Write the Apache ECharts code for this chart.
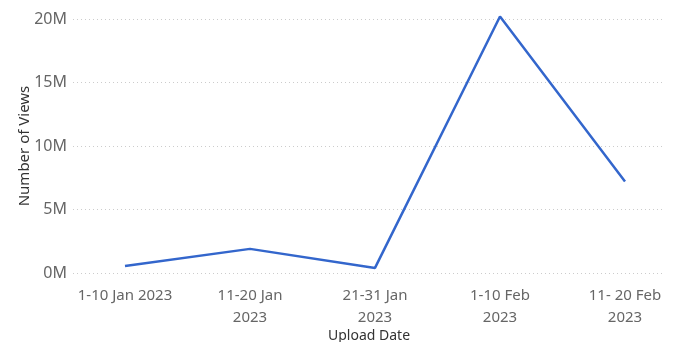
<!DOCTYPE html>
<html>
<head>
<meta charset="utf-8">
<script src="https://cdn.jsdelivr.net/npm/echarts@6/dist/echarts.min.js"></script>
<style>
  html, body { margin: 0; padding: 0; background: #fff; }
  #myChart { width: 679px; height: 342px; }
</style>
</head>
<body>
<div id="myChart"></div>
<script>
// Upload periods and views (millions)
const categories = ['1-10 Jan 2023', '11-20 Jan\n2023', '21-31 Jan\n2023', '1-10 Feb\n2023', '11- 20 Feb\n2023'];
const views = [0.55, 1.9, 0.4, 20.2, 7.2];
const yTicks = [0, 5, 10, 15, 20];

const myChart = echarts.init(document.getElementById('myChart'));
const font = '"Noto Sans", "Open Sans", sans-serif';

const option = {
    animation: false,
    grid: { left: 73, right: 14, top: 19, bottom: 69, outerBoundsMode: 'none', containLabel: false },
    xAxis: {
        type: 'value',
        min: -0.416,
        max: 4.32,
        name: 'Upload Date',
        nameLocation: 'middle',
        nameGap: 56,
        nameMoveOverlap: false,
        nameTextStyle: { color: '#333', fontSize: 14, fontFamily: font },
        axisLine: { show: false },
        axisTick: { show: false },
        splitLine: { show: false },
        axisLabel: {
            customValues: [0, 1, 2, 3, 4],
            formatter: v => categories[Math.round(v)],
            color: '#666',
            fontSize: 15,
            fontFamily: font,
            lineHeight: 22,
            margin: 12
        }
    },
    yAxis: {
        type: 'value',
        min: 0,
        max: 20,
        interval: 5,
        name: 'Number of Views',
        nameLocation: 'middle',
        nameGap: 41,
        nameMoveOverlap: false,
        nameTextStyle: { color: '#333', fontSize: 15, fontFamily: font },
        axisLine: { show: false },
        axisTick: { show: false },
        splitLine: { lineStyle: { type: [1, 3], color: '#ccc' } },
        axisLabel: {
            customValues: yTicks,
            formatter: v => v + 'M',
            color: '#666',
            fontSize: 16,
            fontFamily: font,
            margin: 6
        }
    },
    series: [
        {
            type: 'line',
            data: views.map((v, i) => [i, v]),
            showSymbol: false,
            clip: false,
            lineStyle: { color: '#3366cc', width: 2.5 }
        }
    ]
};

myChart.setOption(option);
</script>
</body>
</html>
